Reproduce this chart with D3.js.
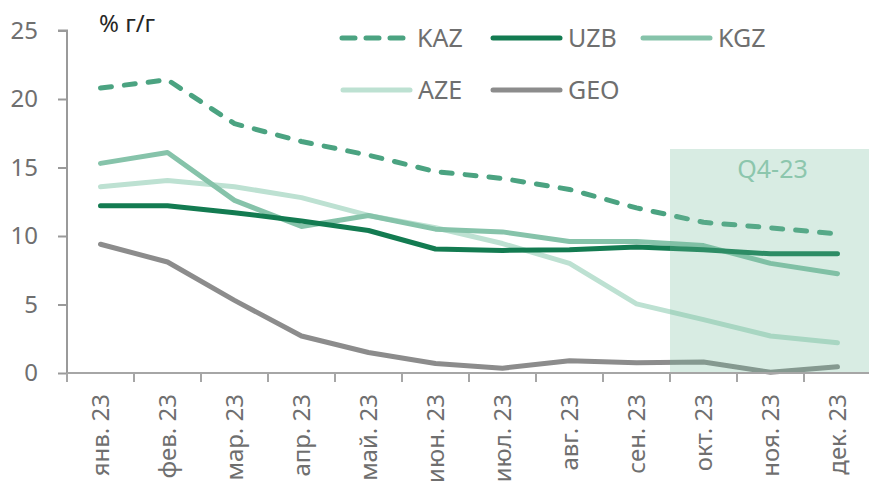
<!DOCTYPE html>
<html>
<head>
<meta charset="utf-8">
<script src="https://cdn.jsdelivr.net/npm/d3@7"></script>
<style>
  body { margin: 0; background: #fff; }
  svg { font-family: "Noto Sans", sans-serif; }
</style>
</head>
<body>
<svg id="chart" width="869" height="486"></svg>
<script>
const months = ["янв. 23", "фев. 23", "мар. 23", "апр. 23", "май. 23", "июн. 23",
  "июл. 23", "авг. 23", "сен. 23", "окт. 23", "ноя. 23", "дек. 23"];
const kaz = [20.8, 21.4, 18.2, 16.9, 15.9, 14.7, 14.2, 13.4, 12.05, 11.0, 10.6, 10.15];
const uzb = [12.2, 12.2, 11.7, 11.1, 10.4, 9.05, 8.95, 9.0, 9.2, 9.0, 8.7, 8.7];
const kgz = [15.3, 16.1, 12.6, 10.7, 11.5, 10.5, 10.3, 9.6, 9.6, 9.3, 8.0, 7.25];
const aze = [13.6, 14.05, 13.6, 12.8, 11.5, 10.6, 9.45, 8.0, 5.05, 3.9, 2.7, 2.2];
const geo = [9.4, 8.1, 5.3, 2.7, 1.5, 0.7, 0.35, 0.9, 0.75, 0.8, 0.05, 0.45];
const yTicks = [0, 5, 10, 15, 20, 25];
const q4Months = ["окт. 23", "ноя. 23", "дек. 23"];
const q4Top = 16.35;

const svg = d3.select("#chart");

const x = d3.scaleBand().domain(months).range([67, 871]).padding(0);
const y = d3.scaleLinear().domain([0, 25]).range([373, 30.5]);

const series = [
  { name: "KAZ", values: kaz, color: "#4ba381", dash: "11,13" },
  { name: "UZB", values: uzb, color: "#137b51", dash: null },
  { name: "KGZ", values: kgz, color: "#86c3aa", dash: null },
  { name: "AZE", values: aze, color: "#bde1d2", dash: null },
  { name: "GEO", values: geo, color: "#8c8c8c", dash: null }
];

const line = d3.line()
  .x((d, i) => x(months[i]) + x.bandwidth() / 2)
  .y(d => y(d));

// lines (drawn back to front as in the original)
const drawOrder = ["GEO", "AZE", "KGZ", "UZB", "KAZ"];
drawOrder.forEach(name => {
  const s = series.find(d => d.name === name);
  svg.append("path")
    .datum(s.values)
    .attr("fill", "none")
    .attr("stroke", s.color)
    .attr("stroke-width", 5)
    .attr("stroke-linejoin", "round")
    .attr("stroke-linecap", "round")
    .attr("stroke-dasharray", s.dash)
    .attr("d", line);
});

// Q4 highlight, semi transparent over the lines
const q4x = x(q4Months[0]);
svg.append("rect")
  .attr("x", q4x)
  .attr("y", y(q4Top))
  .attr("width", 869 - q4x)
  .attr("height", y(0) - y(q4Top))
  .attr("fill", "#74ba99")
  .attr("opacity", 0.28);

svg.append("text")
  .attr("x", (q4x + 869) / 2 + 3)
  .attr("y", y(q4Top) + 29)
  .attr("text-anchor", "middle")
  .attr("fill", "#8cc6ad")
  .style("font-size", "25px")
  .text("Q4-23");

// y axis
const yAxis = d3.axisLeft(y).tickValues(yTicks).tickSize(9).tickPadding(20);
const gy = svg.append("g").attr("transform", "translate(67,0)").call(yAxis);
gy.select(".domain").attr("stroke", "#9a9a9a").attr("stroke-width", 2)
  .attr("d", `M-9,${y(25)}H0V${y(0)}`);
gy.selectAll(".tick line").attr("stroke", "#9a9a9a").attr("stroke-width", 2);
gy.selectAll(".tick text").attr("fill", "#6f6f6f").style("font-size", "24px")
  .attr("font-family", "Noto Sans");

// x axis
const xAxis = d3.axisBottom(x).tickSize(0);
const gx = svg.append("g").attr("transform", `translate(0,${y(0)})`).call(xAxis);
gx.select(".domain").attr("stroke", "#a6a6a6").attr("stroke-width", 2)
  .attr("d", "M67,0H869");
gx.selectAll(".tick text")
  .attr("fill", "#6f6f6f")
  .attr("font-family", "Noto Sans")
  .style("font-size", "24px")
  .style("text-anchor", "end")
  .attr("transform", "rotate(-90)")
  .attr("x", -21)
  .attr("y", 0)
  .attr("dy", "0.36em");

gx.selectAll(".edge")
  .data(months)
  .enter()
  .append("line")
  .attr("x1", d => x(d))
  .attr("x2", d => x(d))
  .attr("y1", 0)
  .attr("y2", 9)
  .attr("stroke", "#a6a6a6")
  .attr("stroke-width", 2);

// unit label
svg.append("text")
  .attr("x", 99)
  .attr("y", 32)
  .attr("fill", "#262626")
  .style("font-size", "24px")
  .text("% г/г");

// legend
const legendPos = {
  KAZ: [340, 38], UZB: [491, 38], KGZ: [641, 38],
  AZE: [341, 90], GEO: [491, 90]
};
series.forEach(s => {
  const [lx, ly] = legendPos[s.name];
  const g = svg.append("g").attr("transform", `translate(${lx},${ly})`);
  g.append("line")
    .attr("x1", 2).attr("x2", 69)
    .attr("y1", 0).attr("y2", 0)
    .attr("stroke", s.color)
    .attr("stroke-width", 5)
    .attr("stroke-linecap", "round")
    .attr("stroke-dasharray", s.dash ? "13,11" : null);
  g.append("text")
    .attr("x", 77)
    .attr("y", 0)
    .attr("dy", "0.36em")
    .attr("fill", "#6f6f6f")
    .style("font-size", "25px")
    .text(s.name);
});
</script>
</body>
</html>
